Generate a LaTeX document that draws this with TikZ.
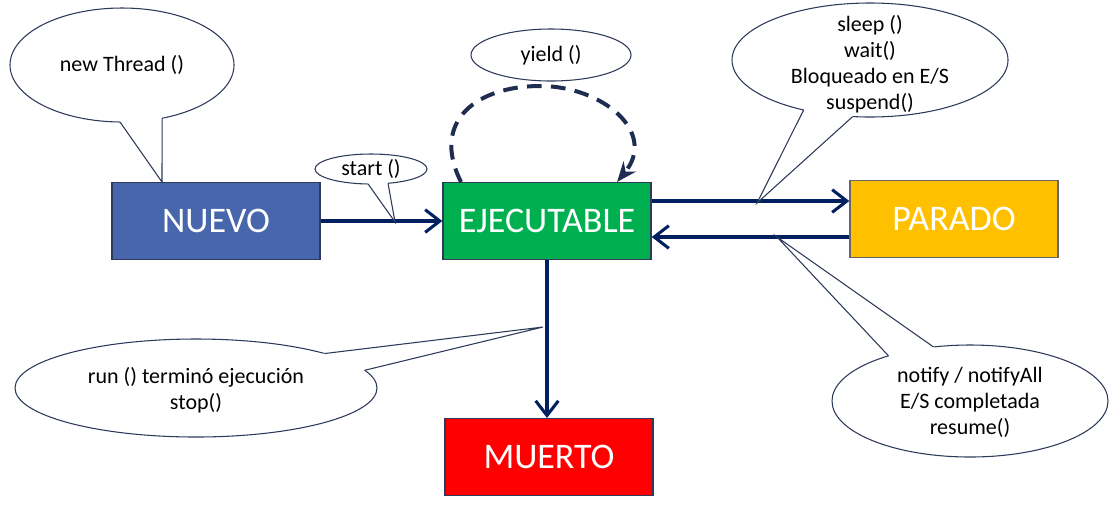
\documentclass[tikz,border=0pt]{standalone}
\usepackage{fontspec}
\setmainfont{Carlito}
\usepackage{xcolor}
\usepackage{tikz}
\usetikzlibrary{shapes.geometric,arrows.meta,positioning,calc}

\definecolor{navy}{RGB}{0,32,96}
\definecolor{loopblue}{RGB}{31,45,80}
\definecolor{lineblue}{RGB}{46,58,90}
\definecolor{nuevoblue}{RGB}{72,102,172}
\definecolor{ejecgreen}{RGB}{0,176,80}
\definecolor{paradoyellow}{RGB}{255,192,0}
\definecolor{muertored}{RGB}{255,0,0}

\begin{document}
\begin{tikzpicture}[x=0.75pt,y=-0.75pt,
    state/.style={draw=lineblue, line width=1pt, minimum width=156pt, minimum height=57.5pt,
        inner sep=0pt, text=white, font=\fontsize{27}{32}\selectfont},
    flow/.style={navy, line width=2.3pt, -{Straight Barb[length=11pt,width=17pt,line width=2.3pt]}},
    yieldloop/.style={loopblue, line width=3pt, dash pattern=on 11pt off 7pt,
        -{Stealth[length=15pt,width=12pt]}},
    bubble/.style={ellipse, draw=lineblue, line width=0.8pt, fill=white, inner sep=0pt,
        outer sep=0pt, align=center, font=\fontsize{16.5}{19.5}\selectfont},
    note/.style={align=center, inner sep=0pt, font=\fontsize{16.5}{19.5}\selectfont},
    tail/.style={lineblue, line width=0.8pt}]

    \useasboundingbox (0,0) rectangle (1112,512);

    % states
    \node[state, fill=nuevoblue] (nuevo) at (216,221) {NUEVO};
    \node[state, fill=ejecgreen] (ejec) at (547,221) {EJECUTABLE};
    \node[state, fill=paradoyellow, draw=gray!80!black] (parado) at (954,219) {PARADO};
    \node[state, fill=muertored] (muerto) at (549,457) {MUERTO};

    % transitions
    \draw[flow] (nuevo) -- (ejec);
    \draw[flow] ([yshift=15pt]ejec.east) -- ([yshift=15pt]ejec.east -| parado.west);
    \draw[flow] ([yshift=-12pt]ejec.east -| parado.west) -- ([yshift=-12pt]ejec.east);
    \draw[flow] (ejec.south) -- (ejec.south |- muerto.north);
    \draw[yieldloop] ([xshift=14pt]ejec.north west) .. controls (430,120) and (478,86) .. (540,86)
        .. controls (602,86) and (658,132) .. ([xshift=-26pt]ejec.north east);

    % callouts
    \node[bubble, minimum width=168pt, minimum height=85.5pt] (bNew) at (122,65) {new Thread ()};
    \coordinate (tNew) at (162,182);
    \fill[white] (tNew) -- ($(tNew)!1.1!(bNew.268)$) -- ($(tNew)!1.1!(bNew.307)$) -- cycle;
    \draw[tail] (bNew.268) -- (tNew) -- (bNew.307);

    \node[bubble, minimum width=84pt, minimum height=22.5pt] (bStart) at (371,169) {start ()};
    \coordinate (tStart) at (395,222);
    \fill[white] (tStart) -- ($(tStart)!1.1!(bStart.259)$) -- ($(tStart)!1.1!(bStart.320)$) -- cycle;
    \draw[tail] (bStart.259) -- (tStart) -- (bStart.320);

    \node[bubble, minimum width=120pt, minimum height=39pt] (bYield) at (551,55) {yield ()};

    \node[bubble, minimum width=207pt, minimum height=85.5pt] (bSleep) at (870,60) {};
    \coordinate (tSleep) at (757,203);
    \fill[white] (tSleep) -- ($(tSleep)!1.1!(bSleep.217)$) -- ($(tSleep)!1.1!(bSleep.253)$) -- cycle;
    \draw[tail] (bSleep.217) -- (tSleep) -- (bSleep.253);
    \node[note] (nSleep) at ([yshift=-3pt]bSleep) {sleep ()\\wait()\\Bloqueado en E/S\\suspend()};

    \node[bubble, minimum width=271.5pt, minimum height=73.5pt] (bRun) at (196,388) {};
    \coordinate (tRun) at (543,327);
    \fill[white] (tRun) -- ($(tRun)!1.05!(bRun.15)$) -- ($(tRun)!1.05!(bRun.6)$) -- cycle;
    \draw[tail] (bRun.15) -- (tRun) -- (bRun.6);
    \node[note] (nRun) at ([yshift=-2pt]bRun) {run () terminó ejecución\\stop()};

    \node[bubble, minimum width=207pt, minimum height=84pt] (bNotify) at (970,401) {};
    \coordinate (tNotify) at (777,237);
    \fill[white] (tNotify) -- ($(tNotify)!1.1!(bNotify.151)$) -- ($(tNotify)!1.1!(bNotify.124)$) -- cycle;
    \draw[tail] (bNotify.151) -- (tNotify) -- (bNotify.124);
    \node[note] (nNotify) at ([yshift=-1pt]bNotify) {notify / notifyAll\\E/S completada\\resume()};
\end{tikzpicture}
\end{document}
